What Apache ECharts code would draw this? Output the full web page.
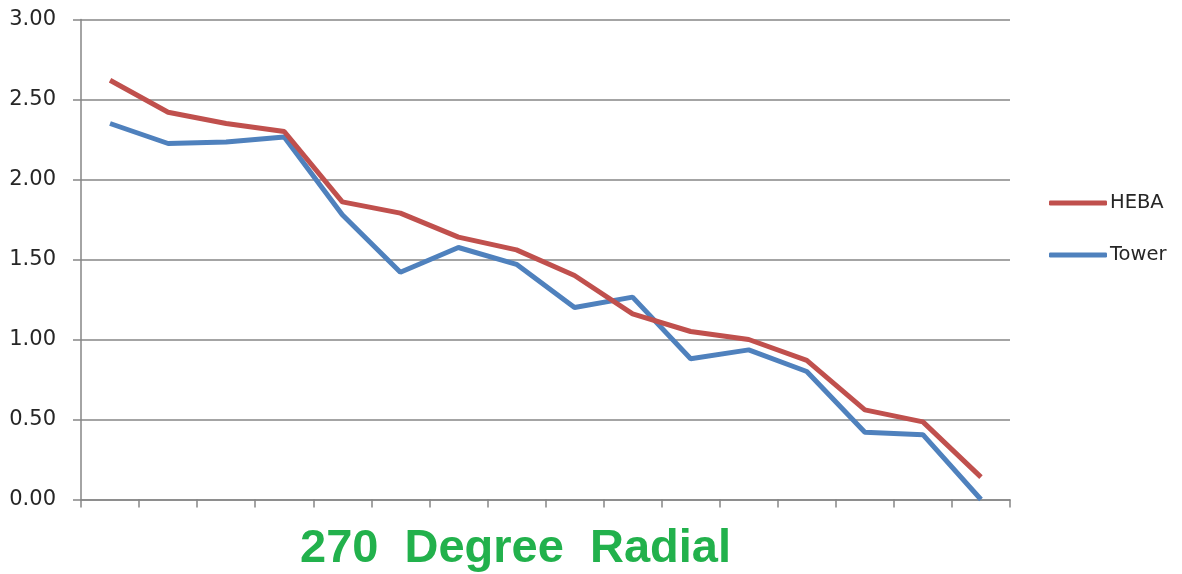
<!DOCTYPE html>
<html>
<head>
<meta charset="utf-8">
<script src="https://cdn.jsdelivr.net/npm/echarts@6/dist/echarts.min.js"></script>
<style>
html,body{margin:0;padding:0;background:#fff;}
#chart{width:1182px;height:574px;}
</style>
</head>
<body>
<div id="chart"></div>
<script>
var categories = ['1','2','3','4','5','6','7','8','9','10','11','12','13','14','15','16'];
var hebaValues = [2.62, 2.42, 2.35, 2.30, 1.86, 1.79, 1.64, 1.56, 1.40, 1.16, 1.05, 1.00, 0.87, 0.56, 0.485, 0.14];
var towerValues = [2.35, 2.225, 2.235, 2.265, 1.78, 1.42, 1.575, 1.47, 1.20, 1.265, 0.88, 0.935, 0.80, 0.42, 0.405, 0.00];
var yTicks = [0, 0.5, 1, 1.5, 2, 2.5, 3];
var titleText = '270  Degree  Radial';

var chart = echarts.init(document.getElementById('chart'));
chart.setOption({
  animation: false,
  backgroundColor: '#ffffff',
  grid: { left: 81, right: 172, top: 19.5, bottom: 74.5, containLabel: false },
  title: {
    text: titleText,
    left: 295,
    top: 521,
    textStyle: { fontFamily: 'Liberation Sans', fontWeight: 'bold', fontSize: 47, color: '#22b14c' }
  },
  legend: {
    orient: 'vertical',
    left: 1044,
    top: 188,
    itemWidth: 58,
    itemHeight: 5,
    itemGap: 32,
    icon: 'roundRect',
    textStyle: { fontFamily: 'DejaVu Sans', fontSize: 19.5, color: '#262626', padding: [0,0,0,-2] },
    data: ['HEBA', 'Tower']
  },
  xAxis: {
    type: 'category',
    data: categories,
    boundaryGap: true,
    axisLine: { lineStyle: { color: '#868686', width: 1.5 } },
    axisTick: { show: true, interval: 0, length: 8, lineStyle: { color: '#868686', width: 1.5 } },
    axisLabel: { show: false },
    splitLine: { show: false }
  },
  yAxis: {
    type: 'value',
    min: yTicks[0],
    max: yTicks[yTicks.length - 1],
    interval: 0.5,
    axisLine: { show: true, lineStyle: { color: '#868686', width: 1.5 } },
    axisTick: { show: true, length: 8, lineStyle: { color: '#868686', width: 1.5 } },
    axisLabel: {
      margin: 25,
      fontFamily: 'DejaVu Sans',
      fontSize: 21,
      color: '#262626',
      formatter: function (v) { return v.toFixed(2); }
    },
    splitLine: { show: true, lineStyle: { color: '#868686', width: 1.5 } }
  },
  series: [
    {
      name: 'HEBA', type: 'line', data: hebaValues,
      symbol: 'none', showSymbol: false,
      lineStyle: { color: '#c0504d', width: 5 },
      itemStyle: { color: '#c0504d' },
      z: 3
    },
    {
      name: 'Tower', type: 'line', data: towerValues,
      symbol: 'none', showSymbol: false,
      lineStyle: { color: '#4f81bd', width: 5 },
      itemStyle: { color: '#4f81bd' },
      z: 2
    }
  ]
});
</script>
</body>
</html>
